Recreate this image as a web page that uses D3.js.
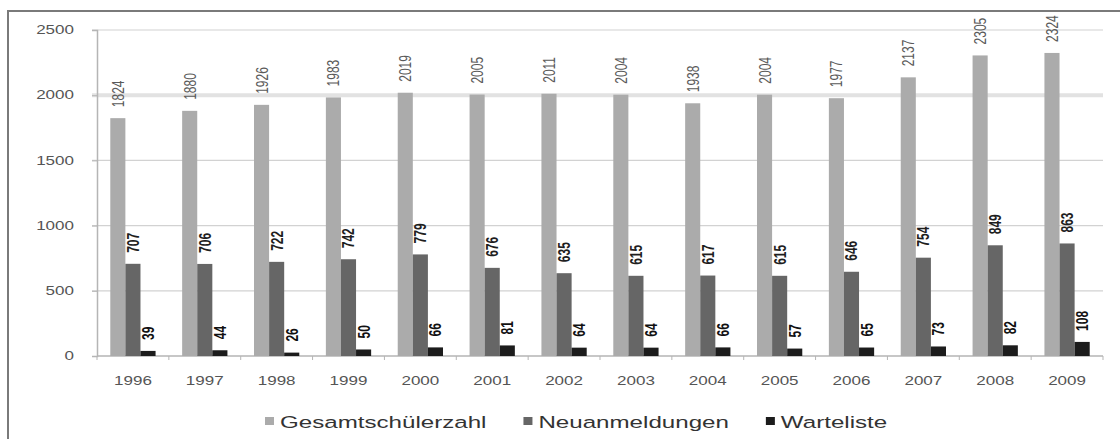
<!doctype html>
<html>
<head>
  <meta charset="UTF-8" />
  <title>Schülerzahlen 1996–2009</title>
  <style>
    html, body { margin: 0; padding: 0; background: #fff; }
    svg { display: block; font-family: "Liberation Sans", Arial, sans-serif; }
  </style>
</head>
<body>
  <svg id="chart" width="1120" height="439"></svg>
  <script src="https://d3js.org/d3.v7.min.js"></script>
  <script>
    // data
    const years = ['1996', '1997', '1998', '1999', '2000', '2001', '2002', '2003', '2004', '2005', '2006', '2007', '2008', '2009'];
    const seriesNames = ['Gesamtschülerzahl', 'Neuanmeldungen', 'Warteliste'];
    const gesamt = [1824, 1880, 1926, 1983, 2019, 2005, 2011, 2004, 1938, 2004, 1977, 2137, 2305, 2324];
    const neu = [707, 706, 722, 742, 779, 676, 635, 615, 617, 615, 646, 754, 849, 863];
    const warte = [39, 44, 26, 50, 66, 81, 64, 64, 66, 57, 65, 73, 82, 108];
    const yTicks = [0, 500, 1000, 1500, 2000, 2500];

    const seriesValues = [gesamt, neu, warte];
    const barColors = ['#ababab', '#666666', '#1c1c1c'];
    const labelStyle = [
      { fill: '#5a5a5a', weight: 'normal' },
      { fill: '#1e1e1e', weight: 'bold' },
      { fill: '#111111', weight: 'bold' }
    ];

    // the picture is stretched sideways, so text is widened too
    const SX = 1.42;

    const svg = d3.select('#chart');

    const plotLeft = 97, plotRight = 1103, plotTop = 30, plotBottom = 356;

    const x0 = d3.scaleBand()
      .domain(years)
      .range([plotLeft, plotRight])
      .paddingInner(0.37)
      .paddingOuter(0.185);

    const x1 = d3.scaleBand()
      .domain(seriesNames)
      .range([0, x0.bandwidth()]);

    const y = d3.scaleLinear()
      .domain([0, 2500])
      .range([plotBottom, plotTop]);

    // outer frame (only top and left edges are visible)
    svg.append('path')
      .attr('d', `M8,439 V11 H1120`)
      .attr('fill', 'none')
      .attr('stroke', '#7a7a7a')
      .attr('stroke-width', 2);

    // gridlines
    svg.append('g')
      .selectAll('line')
      .data(yTicks.filter(d => d > 0))
      .join('line')
      .attr('x1', plotLeft - 5)
      .attr('x2', plotRight)
      .attr('y1', d => y(d))
      .attr('y2', d => y(d))
      .attr('stroke', d => d === 2000 ? '#e2e2e2' : '#d2d2d2')
      .attr('stroke-width', d => d === 2000 ? 4 : 1.2);

    // y axis
    const yAxis = svg.append('g')
      .attr('transform', `translate(${plotLeft},0)`)
      .call(d3.axisLeft(y).tickValues(yTicks).tickSize(5).tickFormat(''));
    yAxis.select('.domain').attr('stroke', '#b5b5b5').attr('stroke-width', 1.5);
    yAxis.selectAll('.tick line').attr('stroke', '#b5b5b5');

    svg.append('g')
      .selectAll('text')
      .data(yTicks)
      .join('text')
      .attr('transform', d => `translate(74,${y(d)}) scale(${SX},1)`)
      .attr('dy', '0.35em')
      .attr('text-anchor', 'end')
      .attr('font-size', 12)
      .attr('fill', '#555')
      .text(d => d);

    // x axis line and ticks at category boundaries
    const step = x0.step();
    svg.append('line')
      .attr('x1', plotLeft).attr('x2', plotRight)
      .attr('y1', plotBottom).attr('y2', plotBottom)
      .attr('stroke', '#b5b5b5').attr('stroke-width', 1.5);

    svg.append('g')
      .selectAll('line')
      .data(d3.range(years.length + 1))
      .join('line')
      .attr('x1', i => plotLeft + i * step)
      .attr('x2', i => plotLeft + i * step)
      .attr('y1', plotBottom)
      .attr('y2', plotBottom + 4)
      .attr('stroke', '#b5b5b5');

    svg.append('g')
      .selectAll('text')
      .data(years)
      .join('text')
      .attr('transform', d => `translate(${x0(d) + x0.bandwidth() / 2},385) scale(${SX},1)`)
      .attr('text-anchor', 'middle')
      .attr('font-size', 12)
      .attr('fill', '#555')
      .text(d => d);

    // bars
    const rows = years.flatMap((yr, i) => seriesNames.map((s, k) => ({
      year: yr, series: s, k, value: seriesValues[k][i]
    })));

    svg.append('g')
      .selectAll('rect')
      .data(rows)
      .join('rect')
      .attr('x', d => x0(d.year) + x1(d.series))
      .attr('width', x1.bandwidth())
      .attr('y', d => y(d.value))
      .attr('height', d => y(0) - y(d.value))
      .attr('fill', d => barColors[d.k]);

    // value labels, rotated
    svg.append('g')
      .selectAll('text')
      .data(rows)
      .join('text')
      .attr('transform', d => {
        const cx = x0(d.year) + x1(d.series) + x1.bandwidth() / 2;
        return `translate(${cx},${y(d.value) - 11}) scale(${SX},1) rotate(-90)`;
      })
      .attr('dy', '0.35em')
      .attr('text-anchor', 'start')
      .attr('font-size', 12)
      .attr('font-weight', d => labelStyle[d.k].weight)
      .attr('fill', d => labelStyle[d.k].fill)
      .text(d => d.value);

    // legend
    const legend = svg.append('g');
    let lx = 265;
    seriesNames.forEach((name, k) => {
      legend.append('rect')
        .attr('x', lx).attr('y', 417)
        .attr('width', 9).attr('height', 8)
        .attr('fill', barColors[k]);
      const t = legend.append('text')
        .attr('transform', `translate(${lx + 15},428) scale(${SX},1)`)
        .attr('font-size', 17)
        .attr('fill', '#333')
        .text(name);
      lx += 15 + t.node().getComputedTextLength() * SX + 37;
    });
  </script>
</body>
</html>
